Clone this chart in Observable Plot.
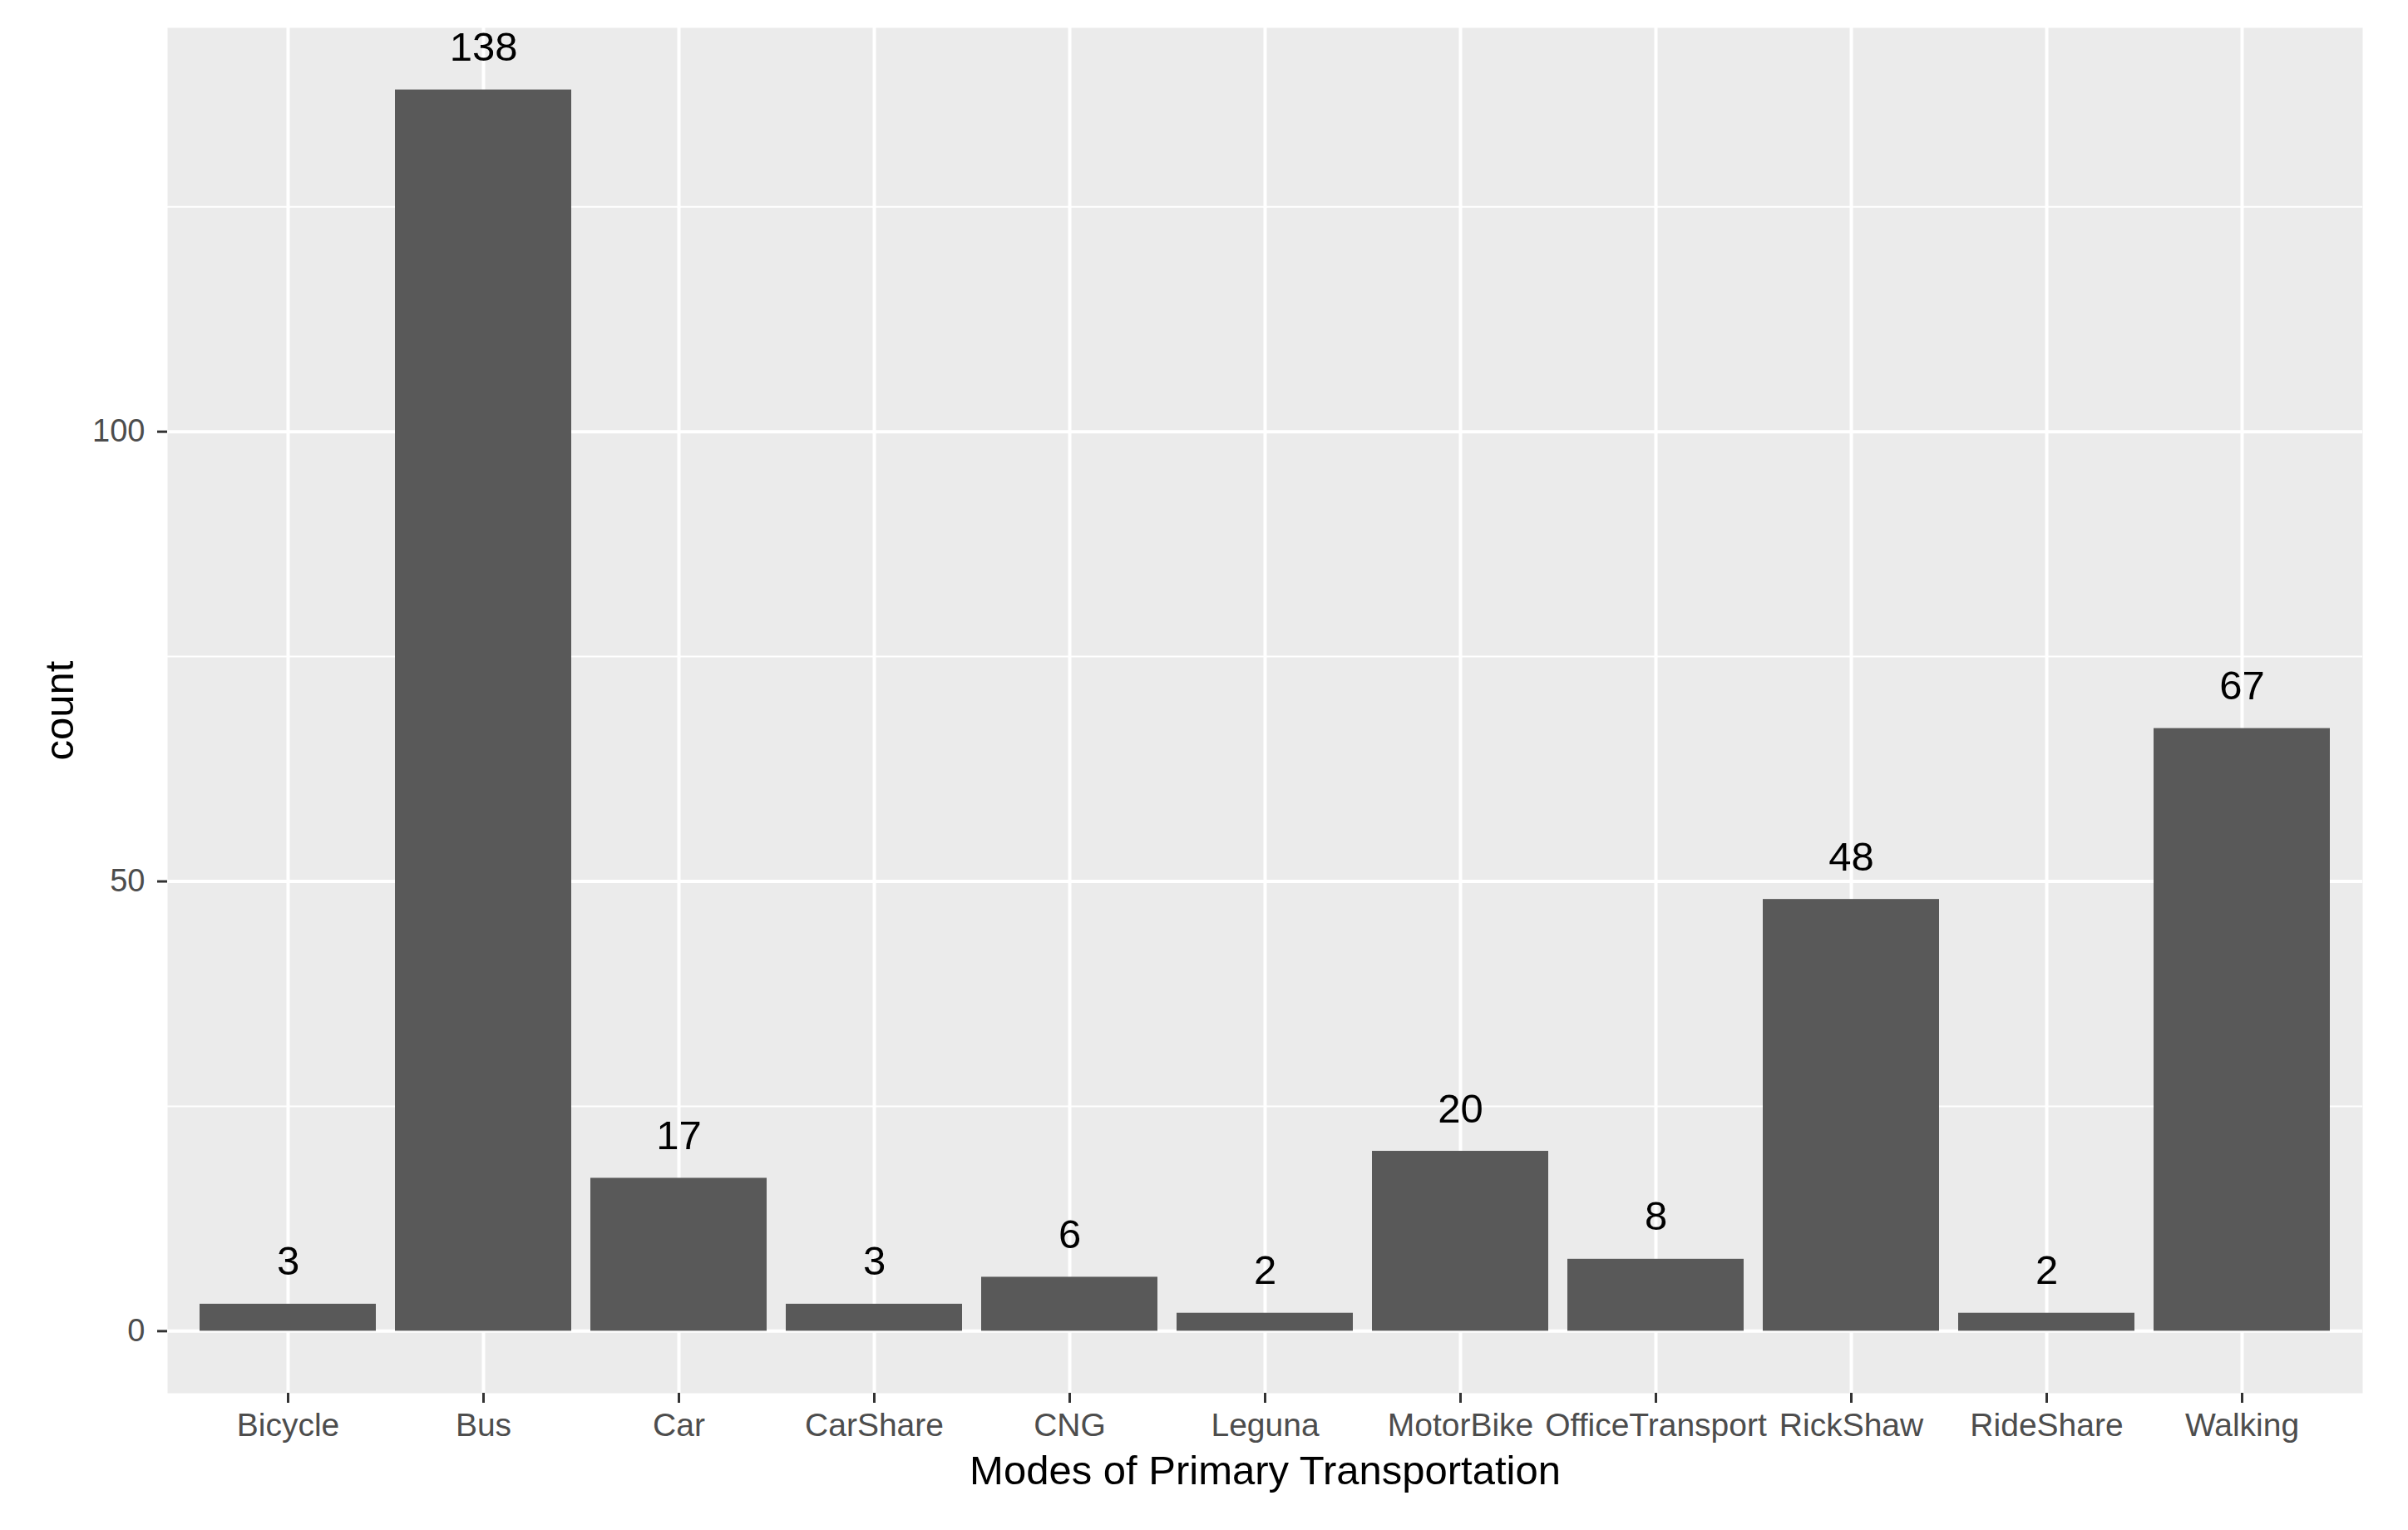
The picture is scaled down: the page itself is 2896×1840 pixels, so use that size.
<!DOCTYPE html>
<html><head><meta charset="utf-8">
<script src="https://cdn.jsdelivr.net/npm/d3@7"></script>
<script src="https://cdn.jsdelivr.net/npm/@observablehq/plot@0.6"></script>
<style>html,body{margin:0;padding:0;background:#fff;}</style>
</head><body><div id="chart"></div>
<script>
const modes = ["Bicycle","Bus","Car","CarShare","CNG","Leguna","MotorBike","OfficeTransport","RickShaw","RideShare","Walking"];
const counts = [3,138,17,3,6,2,20,8,48,2,67];
const majorTicks = [0,50,100];
const minorTicks = [25,75,125];
const xTitle = "Modes of Primary Transportation";
const yTitle = "count";

const data = modes.map((m,i)=>({mode:m,count:counts[i]}));
const plot = Plot.plot({
  width:2896, height:1840,
  marginLeft:201, marginRight:55, marginTop:33, marginBottom:165,
  style:{fontFamily:"'Liberation Sans', Arial, sans-serif", background:"#fff", overflow:"visible"},
  x:{type:"band", domain:modes, paddingInner:0.1, paddingOuter:0.15, align:0.5, label:null},
  y:{domain:[-6.9,144.9], label:null},
  marks:[
    Plot.frame({fill:"#EBEBEB", stroke:"none"}),
    Plot.gridY(minorTicks,{stroke:"#fff", strokeOpacity:1, strokeWidth:2}),
    Plot.gridY(majorTicks,{stroke:"#fff", strokeOpacity:1, strokeWidth:4}),
    Plot.gridX({stroke:"#fff", strokeOpacity:1, strokeWidth:4}),
    Plot.barY(data,{x:"mode", y:"count", fill:"#595959"}),
    Plot.text(data,{x:"mode", y:"count", text:d=>String(d.count), dy:-35, lineAnchor:"bottom", fontSize:49, fill:"#000"}),
    Plot.axisY(majorTicks,{tickSize:12, tickPadding:15, fontSize:38, stroke:"#333", strokeWidth:3, fill:"#4D4D4D", label:null}),
    Plot.axisX({tickSize:12, tickPadding:12, fontSize:39, stroke:"#333", strokeWidth:3, fill:"#4D4D4D", label:null}),
    Plot.text([xTitle],{frameAnchor:"bottom", dy:94, lineAnchor:"middle", textAnchor:"middle", text:d=>d, fontSize:49, fill:"#000"}),
    Plot.text([yTitle],{frameAnchor:"left", dx:-129, rotate:-90, lineAnchor:"middle", textAnchor:"middle", text:d=>d, fontSize:49, fill:"#000"})
  ]
});
document.getElementById("chart").appendChild(plot);
</script>
</body></html>
